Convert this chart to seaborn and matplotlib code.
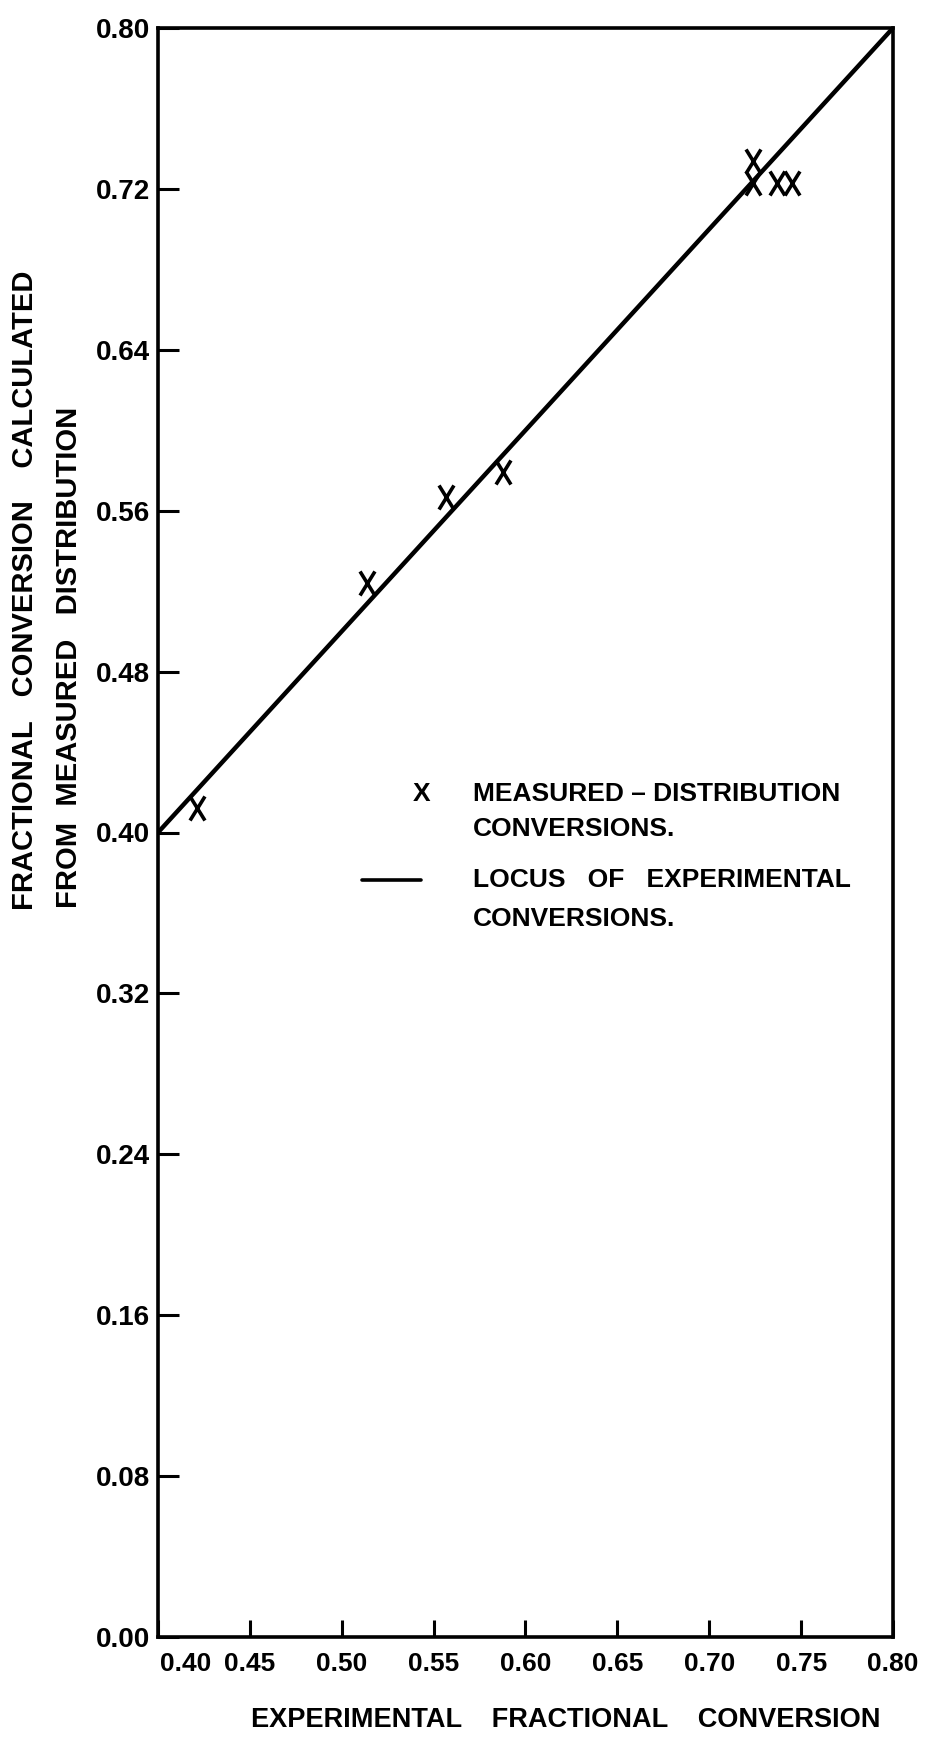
import numpy as np
import pandas as pd
import seaborn as sns
import matplotlib
matplotlib.use("Agg")
import matplotlib.pyplot as plt
from matplotlib.path import Path
from matplotlib.transforms import ScaledTranslation

# ---- data ----
exp_conversion = [0.421, 0.514, 0.557, 0.588, 0.724, 0.724, 0.737, 0.745]
calc_conversion = [0.412, 0.524, 0.567, 0.579, 0.734, 0.723, 0.723, 0.723]
locus_x = [0.40, 0.80]
locus_y = [0.40, 0.80]
x_ticks = [0.40, 0.45, 0.50, 0.55, 0.60, 0.65, 0.70, 0.75, 0.80]
x_tick_labels = ["0.40", "0.45", "0.50", "0.55", "0.60", "0.65", "0.70", "0.75", "0.80"]
y_ticks = [0.00, 0.08, 0.16, 0.24, 0.32, 0.40, 0.48, 0.56, 0.64, 0.72, 0.80]
y_tick_labels = ["0.00", "0.08", "0.16", "0.24", "0.32", "0.40", "0.48", "0.56", "0.64", "0.72", "0.80"]
x_label = "EXPERIMENTAL    FRACTIONAL    CONVERSION"
y_label_1 = "FRACTIONAL   CONVERSION    CALCULATED"
y_label_2 = "FROM  MEASURED   DISTRIBUTION"
legend_marker_text = ["MEASURED – DISTRIBUTION", "CONVERSIONS."]
legend_line_text = ["LOCUS   OF   EXPERIMENTAL", "CONVERSIONS."]

points = pd.DataFrame({"x": exp_conversion, "y": calc_conversion})
locus = pd.DataFrame({"x": locus_x, "y": locus_y})

sns.set_style("white")
FAM = ["Liberation Sans", "DejaVu Sans"]
plt.rcParams["font.family"] = FAM
plt.rcParams["font.weight"] = "bold"
plt.rcParams["text.color"] = "black"

fig = plt.figure(figsize=(9.27, 17.37), dpi=100)
ax = fig.add_axes([158 / 927, 100 / 1737, 735 / 927, 1609 / 1737])

# tall hand-drawn style X marker
xmark = Path([(-0.62, -1), (0.62, 1), (-0.62, 1), (0.62, -1)],
             [Path.MOVETO, Path.LINETO, Path.MOVETO, Path.LINETO])

sns.lineplot(data=locus, x="x", y="y", ax=ax, color="black", lw=3.2,
             estimator=None, sort=False)
sns.scatterplot(data=points, x="x", y="y", ax=ax, marker=xmark, s=300,
                color="black", linewidth=2.6, edgecolor="black", zorder=5)

ax.set_xlim(0.40, 0.80)
ax.set_ylim(0.0, 0.80)
ax.set_xlabel("")
ax.set_ylabel("")
ax.set_xticks(x_ticks)
ax.set_xticklabels(x_tick_labels)
ax.set_yticks(y_ticks)
ax.set_yticklabels(y_tick_labels)

for s in ax.spines.values():
    s.set_visible(True)
    s.set_color("black")
    s.set_linewidth(2.6)

ax.tick_params(axis="x", direction="in", length=12, width=2.2, pad=11,
               labelsize=19, colors="black", bottom=True, top=False)
ax.tick_params(axis="y", direction="in", length=15, width=2.2, pad=6,
               labelsize=20, colors="black", left=True, right=False)
for lab in ax.get_xticklabels() + ax.get_yticklabels():
    lab.set_fontweight("bold")
    lab.set_family(FAM)
    lab.set_color("black")

# first x label sits a bit to the right in the original
first = ax.get_xticklabels()[0]
first.set_transform(first.get_transform() + ScaledTranslation(0.28, 0, fig.dpi_scale_trans))

# legend (hand-lettered in original)
tx = ax.transAxes
LX = (473 - 158) / 735
def ay(py):
    return (1637 - py) / 1609

ax.text((422 - 158) / 735, ay(794), "X", transform=tx, ha="center", va="center",
        fontsize=19, fontweight="bold", family=FAM, color="black")
ax.text(LX, ay(794), legend_marker_text[0], transform=tx, ha="left", va="center",
        fontsize=19, fontweight="bold", family=FAM, color="black")
ax.text(LX, ay(829), legend_marker_text[1], transform=tx, ha="left", va="center",
        fontsize=19, fontweight="bold", family=FAM, color="black")
ax.plot([(362 - 158) / 735, (421 - 158) / 735], [ay(880), ay(880)], transform=tx,
        color="black", lw=2.6)
ax.text(LX, ay(880), legend_line_text[0], transform=tx, ha="left", va="center",
        fontsize=19, fontweight="bold", family=FAM, color="black")
ax.text(LX, ay(919), legend_line_text[1], transform=tx, ha="left", va="center",
        fontsize=19, fontweight="bold", family=FAM, color="black")

# axis labels
fig.text(566 / 927, 1 - 1720 / 1737, x_label, ha="center", va="center",
         fontsize=19.5, fontweight="bold", family=FAM, color="black")
fig.text(25 / 927, 1 - 910 / 1737, y_label_1, rotation=90, ha="center", va="bottom",
         fontsize=21, fontweight="bold", family=FAM, color="black")
fig.text(69 / 927, 1 - 908 / 1737, y_label_2, rotation=90, ha="center", va="bottom",
         fontsize=21, fontweight="bold", family=FAM, color="black")

fig.savefig("out.png", dpi=100, facecolor="white")
